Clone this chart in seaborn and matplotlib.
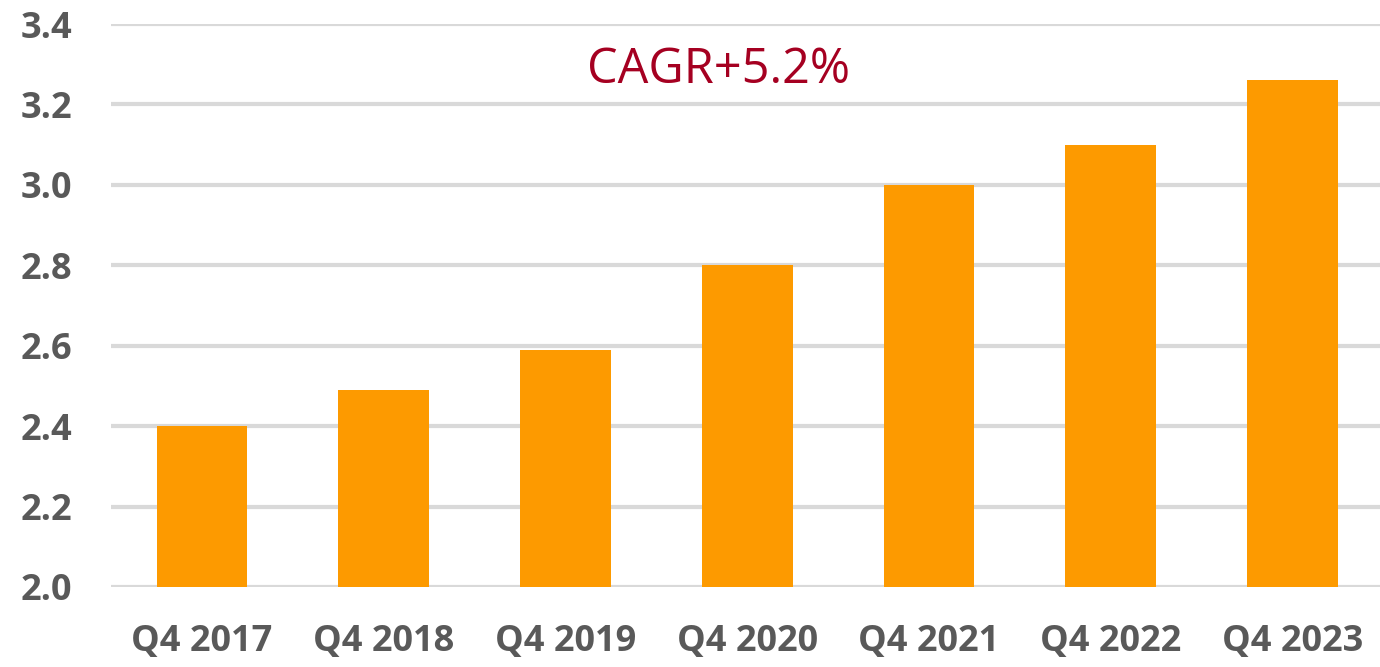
import matplotlib
matplotlib.use("Agg")
import matplotlib.pyplot as plt
import seaborn as sns
import pandas as pd

quarters = ["Q4 2017", "Q4 2018", "Q4 2019", "Q4 2020", "Q4 2021", "Q4 2022", "Q4 2023"]
values = [2.40, 2.49, 2.59, 2.80, 3.00, 3.10, 3.26]
y_ticks = [2.0, 2.2, 2.4, 2.6, 2.8, 3.0, 3.2, 3.4]
note = "CAGR+5.2%"

sns.set_theme(style="white")
plt.rcParams["font.family"] = ["Open Sans", "DejaVu Sans"]

df = pd.DataFrame({"quarter": quarters, "value": values})

fig = plt.figure(figsize=(13.8, 6.67), dpi=100)
ax = fig.add_axes([0.0805, 0.12, 0.922, 0.844])

for t in y_ticks:
    ax.axhline(t, color="#D9D9D9", linewidth=3, zorder=0)

sns.barplot(data=df, x="quarter", y="value", color="#FD9A00", width=0.5,
            saturation=1, linewidth=0, ax=ax, zorder=2)

ax.set_ylim(2.0, 3.4)
ax.set_yticks(y_ticks)
ax.set_yticklabels([f"{t:.1f}" for t in y_ticks])
ax.set_xlim(-0.5, len(quarters) - 0.5)
ax.set_xlabel("")
ax.set_ylabel("")
for s in ax.spines.values():
    s.set_visible(False)
ax.tick_params(axis="both", length=0, labelsize=26, labelcolor="#595959")
ax.tick_params(axis="y", pad=28)
ax.tick_params(axis="x", pad=27)
for lbl in ax.get_xticklabels() + ax.get_yticklabels():
    lbl.set_fontweight("bold")

ax.text(2.84, 3.286, note, color="#A50021", fontsize=35, ha="center", va="center")

fig.savefig("out.png", dpi=100, facecolor="white")
